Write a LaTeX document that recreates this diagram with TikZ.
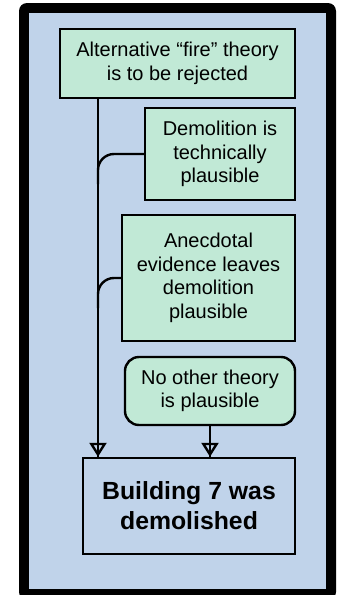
\documentclass[tikz,border=0pt]{standalone}
\usepackage{fontspec}
\setmainfont{Liberation Sans}
\usepackage{tikz}
\usetikzlibrary{calc}
\usetikzlibrary{arrows.meta}

\definecolor{panelblue}{RGB}{192,211,234}
\definecolor{claimgreen}{RGB}{193,233,214}

\def\lw{1.2pt}
\def\bend{8pt}

\tikzset{
  claim/.style={draw, line width=\lw, fill=claimgreen, align=center, inner sep=0pt,
    font=\fontsize{10}{11.75}\selectfont},
  link/.style={line width=\lw, rounded corners=\bend},
  arr/.style={line width=\lw, -{Triangle[open,length=7pt,width=8.5pt]},
    preaction={draw, line width=\lw, arrows=-}},
}

\begin{document}
\begin{tikzpicture}[x=0.5pt,y=-0.5pt]
\useasboundingbox (0,0) rectangle (339,595);
\begin{scope}
\clip (0,0) rectangle (339,595);
\fill[black, rounded corners=4pt] (19,3) rectangle (336,600);
\end{scope}
\fill[panelblue] (29,13) rectangle (326,589);

\node[claim, minimum width=117.5pt, minimum height=34.5pt] (reject) at (177.5,63.5) {Alternative “fire” theory\\is to be rejected};
\node[claim, minimum width=75pt, minimum height=46pt] (tech) at (220,154) {Demolition is\\technically\\plausible};
\node[claim, minimum width=86.5pt, minimum height=63pt] (anec) at (208.5,278) {Anecdotal\\evidence leaves\\demolition\\plausible};
\node[claim, rounded corners=7pt, minimum width=85pt, minimum height=34pt] (noother) at (210,391) {No other theory\\is plausible};
\node[claim, fill=panelblue, minimum width=106pt, minimum height=48pt,
  font=\bfseries\fontsize{12.4}{15}\selectfont] (result) at (189,506) {Building 7 was\\demolished};

\coordinate (spine) at (98,0);

\draw[arr] (reject.south -| spine) -- (result.north -| spine);
\draw[link] (tech.west) -- (tech.west -| spine) -- ++(0,30);
\draw[link] (anec.west) -- (anec.west -| spine) -- ++(0,30);
\draw[arr] (noother.south) -- (noother.south |- result.north);

\end{tikzpicture}
\end{document}
